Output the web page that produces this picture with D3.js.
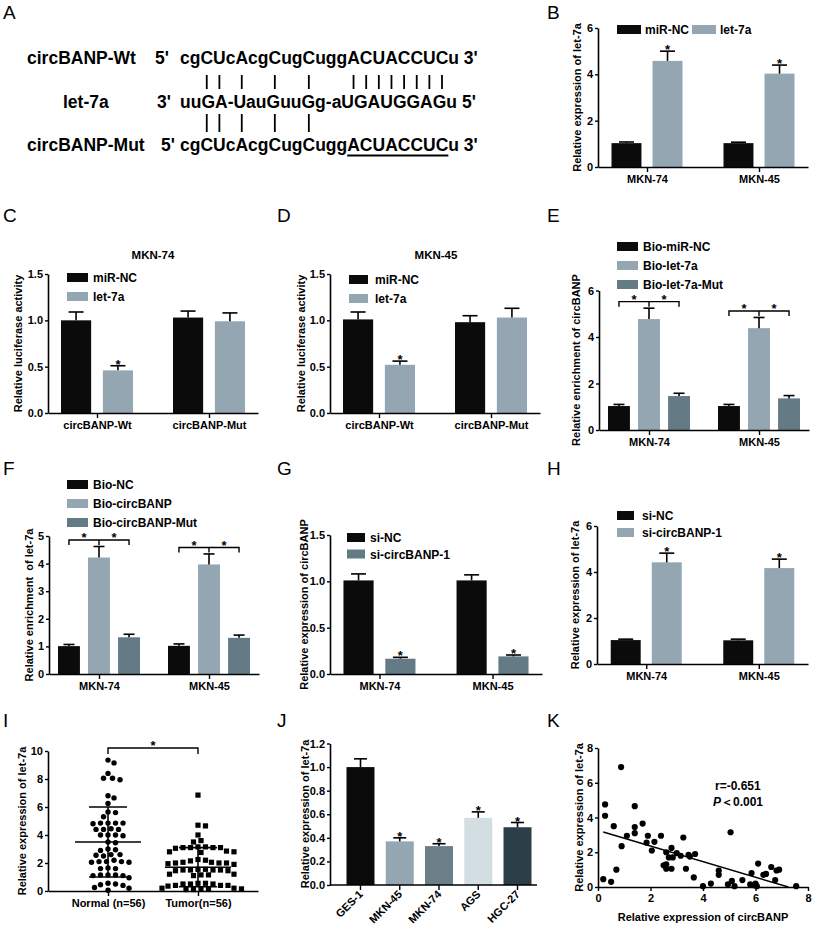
<!DOCTYPE html>
<html><head><meta charset="utf-8">
<script src="https://cdn.jsdelivr.net/npm/d3@7/dist/d3.min.js"></script>
<style>html,body{margin:0;padding:0;background:#fff;}svg{display:block;}</style>
</head><body>
<svg id="fig" width="813" height="927"></svg>
<script>
const FONT = '"Liberation Sans", Arial, Helvetica, sans-serif';
const BLACK = "#0b0b0b", LIGHT = "#93a6b2", DARK = "#647a85";

// ---------- Panel A (sequence alignment) ----------
const aLabels = ["circBANP-Wt", "let-7a", "circBANP-Mut"];
const aPrime5 = ["5'", "3'", "5'"];
const aSeqs = ["cgCUcAcgCugCuggACUACCUCu", "uuGA-UauGuuGg-aUGAUGGAGu", "cgCUcAcgCugCuggACUACCUCu"];
const aPrime3 = ["3'", "5'", "3'"];
const aPairsTop = [2, 3, 5, 8, 11, 15, 16, 17, 18, 19, 20, 21, 22];
const aPairsBottom = [2, 3, 5, 8, 11];
const aMutated = [15, 22];

// ---------- Panel B ----------
const bGroups = ["MKN-74", "MKN-45"];
const bSeries = ["miR-NC", "let-7a"];
const bMean = [[1.03, 4.58], [1.03, 4.03]];
const bErr = [[1.08, 5.00], [1.07, 4.40]];
const bStar = [[0, 1], [0, 1]];
const bTicks = [0, 2, 4, 6];

// ---------- Panel C ----------
const cGroups = ["circBANP-Wt", "circBANP-Mut"];
const cSeries = ["miR-NC", "let-7a"];
const cMean = [[1.00, 0.46], [1.03, 0.99]];
const cErr = [[1.09, 0.51], [1.10, 1.08]];
const cStar = [[0, 1], [0, 0]];
const cTicks = [0, 0.5, 1.0, 1.5];

// ---------- Panel D ----------
const dGroups = ["circBANP-Wt", "circBANP-Mut"];
const dSeries = ["miR-NC", "let-7a"];
const dMean = [[1.01, 0.52], [0.98, 1.03]];
const dErr = [[1.09, 0.56], [1.05, 1.13]];
const dStar = [[0, 1], [0, 0]];
const dTicks = [0, 0.5, 1.0, 1.5];

// ---------- Panel E ----------
const eGroups = ["MKN-74", "MKN-45"];
const eSeries = ["Bio-miR-NC", "Bio-let-7a", "Bio-let-7a-Mut"];
const eMean = [[1.03, 4.77, 1.46], [1.03, 4.38, 1.36]];
const eErr = [[1.10, 5.24, 1.58], [1.10, 4.84, 1.48]];
const eTicks = [0, 2, 4, 6];

// ---------- Panel F ----------
const fGroups = ["MKN-74", "MKN-45"];
const fSeries = ["Bio-NC", "Bio-circBANP", "Bio-circBANP-Mut"];
const fMean = [[1.01, 4.22, 1.33], [1.02, 3.97, 1.31]];
const fErr = [[1.07, 4.62, 1.44], [1.09, 4.35, 1.41]];
const fTicks = [0, 1, 2, 3, 4, 5];

// ---------- Panel G ----------
const gGroups = ["MKN-74", "MKN-45"];
const gSeries = ["si-NC", "si-circBANP-1"];
const gMean = [[1.01, 0.165], [1.01, 0.19]];
const gErr = [[1.08, 0.18], [1.07, 0.205]];
const gStar = [[0, 1], [0, 1]];
const gTicks = [0, 0.5, 1.0, 1.5];

// ---------- Panel H ----------
const hGroups = ["MKN-74", "MKN-45"];
const hSeries = ["si-NC", "si-circBANP-1"];
const hMean = [[1.04, 4.42], [1.03, 4.17]];
const hErr = [[1.08, 4.82], [1.08, 4.56]];
const hStar = [[0, 1], [0, 1]];
const hTicks = [0, 2, 4, 6];

// ---------- Panel I ----------
const iGroups = ["Normal (n=56)", "Tumor(n=56)"];
const iNormal = [9.35, 9.15, 8.4, 8.05, 7.95, 8.05, 6.8, 6.65, 6.25, 5.65, 5.6, 5.3,
  4.85, 4.85, 4.8, 4.85, 4.85, 4.4, 4.45, 4.4, 4.4, 4.0, 4.0, 3.95, 4.0, 3.5, 3.45,
  3.0, 2.9, 2.95, 2.6, 2.55, 2.6, 2.5, 2.2, 2.1, 2.05, 2.1, 2.05, 2.1, 1.65, 1.6, 1.6,
  1.15, 1.1, 1.15, 1.1, 1.15, 0.95, 0.55, 0.45, 0.5, 0.4, 0.2, 0.25, 0.05];
const iTumor = [6.85, 4.7, 4.65, 4.0, 3.6, 3.5, 3.15, 3.1, 3.1, 3.15, 3.1, 3.1, 3.05,
  2.8, 2.75, 2.8, 2.85, 2.2, 2.25, 2.15, 2.05, 2.0, 1.95, 2.0, 2.05, 1.9, 2.0,
  1.55, 1.5, 1.45, 1.5, 1.55, 1.45, 1.5, 1.5, 1.2, 1.15, 1.1, 1.15, 1.2,
  0.55, 0.5, 0.5, 0.55, 0.5, 0.4, 0.35, 0.4, 0.4, 0.2, 0.15, 0.1, 0.2, 0.15, 0.1, 0.15];
const iMeanLine = [3.5, 1.7];
const iSdHigh = [6.0, 3.1];
const iSdLow = [1.0, 0.3];
const iTicks = [0, 2, 4, 6, 8, 10];

// ---------- Panel J ----------
const jCats = ["GES-1", "MKN-45", "MKN-74", "AGS", "HGC-27"];
const jMean = [1.00, 0.37, 0.33, 0.57, 0.49];
const jErr = [1.07, 0.40, 0.35, 0.62, 0.53];
const jStar = [0, 1, 1, 1, 1];
const jColors = ["#0b0b0b", "#94a7b2", "#6b7f89", "#d3dee2", "#2c3e48"];
const jTicks = [0, 0.2, 0.4, 0.6, 0.8, 1.0, 1.2];

// ---------- Panel K ----------
const kX = [0.88, 0.27, 0.27, 1.4, 0.6, 1.7, 1.4, 1.4, 1.1, 1.9, 2.4, 3.25, 5.05, 1.85, 2.15, 0.9,
  2.8, 2.05, 2.6, 3.0, 3.45, 3.15, 3.7, 2.85, 2.5, 2.6, 2.6, 2.8, 3.35, 0.7, 0.2, 0.5, 3.65,
  4.0, 4.3, 4.6, 4.6, 4.95, 5.1, 5.2, 5.5, 5.8, 5.85, 6.0, 6.05, 6.1, 6.3, 6.4, 6.6, 6.75,
  6.8, 6.9, 7.55, 3.5, 2.7, 5.95];
const kY = [6.9, 4.75, 4.1, 4.65, 3.5, 3.65, 3.45, 3.1, 2.95, 2.95, 2.95, 2.85, 3.15, 2.55, 2.6, 2.35,
  2.25, 2.1, 2.0, 1.95, 1.85, 1.8, 1.9, 1.7, 1.25, 1.3, 1.05, 1.05, 1.05, 1.0, 0.45, 0.3, 0.55,
  0.05, 0.2, 0.7, 0.95, 0.15, 0.35, 0.05, 0.4, 0.15, 0.8, 0.2, 0.05, 1.35, 0.7, 0.75, 1.15, 0.4,
  0.95, 1.0, 0.05, 1.75, 1.7, 0.1];
const kFitIntercept = 3.25, kFitSlope = -0.448, kFitStart = 0.2;
const kTicks = [0, 2, 4, 6, 8];
const kStats = ["r=-0.651", "0.001"];

// ---------- Panel letters ----------
const panelLetters = ["A", "B", "C", "D", "E", "F", "G", "H", "I", "J", "K"];

// =====================================================
const svg = d3.select("#fig");
svg.append("rect").attr("width", 813).attr("height", 927).attr("fill", "#fff");

const letterPos = [[3, 19], [547, 19], [3, 222], [277, 222], [547, 222], [3, 475], [277, 475], [547, 475], [3, 727], [277, 727], [547, 727]];
panelLetters.forEach((L, i) => {
  svg.append("text").attr("x", letterPos[i][0]).attr("y", letterPos[i][1])
    .attr("font-family", FONT).attr("font-size", 19).attr("fill", "#000").text(L);
});

function styleAxis(sel, size) {
  sel.attr("font-family", FONT).attr("font-size", size || 11).attr("font-weight", "bold");
  sel.selectAll(".domain").attr("stroke", "#000").attr("stroke-width", 1.6);
  sel.selectAll(".tick line").attr("stroke", "#000").attr("stroke-width", 1.4);
  sel.selectAll(".tick text").attr("fill", "#000");
}
function yTitle(x, cy, txt) {
  svg.append("text").attr("transform", `translate(${x},${cy}) rotate(-90)`)
    .attr("text-anchor", "middle").attr("dy", "0.35em")
    .attr("font-family", FONT).attr("font-weight", "bold").attr("font-size", 11)
    .style("white-space", "pre").text(txt);
}
function star(x, yb) {
  svg.append("text").attr("x", x).attr("y", yb).attr("text-anchor", "middle")
    .attr("font-family", FONT).attr("font-weight", "bold").attr("font-size", 13).text("*");
}
function legend(o) {
  o.items.forEach((t, i) => {
    const lx = o.x + (o.dx || 0) * i, ly = o.y + (o.dy || 0) * i;
    svg.append("rect").attr("x", lx).attr("y", ly).attr("width", o.w).attr("height", o.h).attr("fill", o.colors[i]);
    svg.append("text").attr("x", lx + o.w + o.gap).attr("y", ly + o.h)
      .attr("font-family", FONT).attr("font-weight", "bold").attr("font-size", 12).text(t);
  });
}

// ---------- Panel A drawing ----------
(function () {
  const labelX = [27, 63, 27], base = [64, 108, 151], primeX = [155, 157, 161], seqX = 180;
  const g = svg.append("g").attr("font-family", FONT).attr("font-weight", "bold").attr("font-size", 17.5).attr("fill", "#000");
  const nodes = [];
  aLabels.forEach((lab, i) => {
    g.append("text").attr("x", labelX[i]).attr("y", base[i]).text(lab);
    g.append("text").attr("x", primeX[i]).attr("y", base[i]).text(aPrime5[i]);
    nodes.push(g.append("text").attr("x", seqX).attr("y", base[i]).text(aSeqs[i] + " " + aPrime3[i]).node());
  });
  const cc = (n, k) => seqX + n.getSubStringLength(0, k) + n.getSubStringLength(k, 1) / 2;
  aPairsTop.forEach(k => {
    const x = cc(nodes[0], k);
    svg.append("line").attr("x1", x).attr("x2", x).attr("y1", 75).attr("y2", 89).attr("stroke", "#000").attr("stroke-width", 1.8);
  });
  aPairsBottom.forEach(k => {
    const x = cc(nodes[2], k);
    svg.append("line").attr("x1", x).attr("x2", x).attr("y1", 114).attr("y2", 132).attr("stroke", "#000").attr("stroke-width", 1.8);
  });
  const ux0 = seqX + nodes[2].getSubStringLength(0, aMutated[0]);
  const ux1 = seqX + nodes[2].getSubStringLength(0, aMutated[1] + 1);
  svg.append("line").attr("x1", ux0).attr("x2", ux1).attr("y1", 155.5).attr("y2", 155.5).attr("stroke", "#000").attr("stroke-width", 1.8);
})();

// ---------- generic grouped bar panel ----------
function barPanel(o) {
  const y = d3.scaleLinear().domain([0, o.ymax]).range([o.bottom, o.top]);
  const x0 = d3.scalePoint().domain(o.groups).range([o.left, o.right]).padding(o.pad);
  const x1 = d3.scaleBand().domain(o.series).range([-o.gw / 2, o.gw / 2]).paddingInner(o.inner);
  const g = svg.append("g");
  const bars = [];
  o.groups.forEach((grp, gi) => o.series.forEach((s, si) => bars.push({
    grp, s, si, v: o.mean[gi][si], e: o.err[gi][si], st: o.star ? o.star[gi][si] : 0
  })));
  const cx = d => x0(d.grp) + x1(d.s) + x1.bandwidth() / 2;
  g.selectAll("rect.bar").data(bars).join("rect").attr("class", "bar")
    .attr("x", d => x0(d.grp) + x1(d.s)).attr("y", d => y(d.v))
    .attr("width", x1.bandwidth()).attr("height", d => y(0) - y(d.v)).attr("fill", d => o.colors[d.si]);
  g.selectAll("line.stem").data(bars).join("line").attr("class", "stem")
    .attr("x1", cx).attr("x2", cx).attr("y1", d => y(d.v)).attr("y2", d => y(d.e))
    .attr("stroke", "#000").attr("stroke-width", 1.6);
  g.selectAll("line.cap").data(bars).join("line").attr("class", "cap")
    .attr("x1", d => cx(d) - o.cap / 2).attr("x2", d => cx(d) + o.cap / 2)
    .attr("y1", d => y(d.e)).attr("y2", d => y(d.e))
    .attr("stroke", "#000").attr("stroke-width", 1.6);
  bars.filter(d => d.st).forEach(d => star(cx(d), y(d.e) + 3));
  if (o.brackets) {
    o.groups.forEach((grp, gi) => {
      const by = y(d3.max(o.err[gi])) - 6.5;
      const cs = o.series.map(s => x0(grp) + x1(s) + x1.bandwidth() / 2);
      const p = d3.path();
      p.moveTo(cs[0], by + 5); p.lineTo(cs[0], by); p.lineTo(cs[2], by); p.lineTo(cs[2], by + 5);
      p.moveTo(cs[1], by); p.lineTo(cs[1], by + 5);
      g.append("path").attr("d", p.toString()).attr("fill", "none").attr("stroke", "#000").attr("stroke-width", 1.4);
      star((cs[0] + cs[1]) / 2, by + 2.5);
      star((cs[1] + cs[2]) / 2, by + 2.5);
    });
  }
  const ya = g.append("g").attr("transform", `translate(${o.left},0)`)
    .call(d3.axisLeft(y).tickValues(o.ticks).tickFormat(o.fmt).tickSize(3).tickPadding(2).tickSizeOuter(0));
  styleAxis(ya);
  const xa = g.append("g").attr("transform", `translate(0,${o.bottom})`)
    .call(d3.axisBottom(x0).tickSize(5).tickPadding(3).tickSizeOuter(0));
  styleAxis(xa);
  return { x0, x1, y };
}

const fmt1 = d3.format(".1f"), fmt0 = d3.format("d");

// B
barPanel({ groups: bGroups, series: bSeries, mean: bMean, err: bErr, star: bStar, ymax: 6, ticks: bTicks, fmt: fmt0,
  left: 598, right: 808, bottom: 167, top: 28, pad: 0.4375, gw: 71, inner: 0.27, cap: 15, colors: [BLACK, LIGHT] });
legend({ x: 617, y: 25, dx: 75, w: 24, h: 9, gap: 4, items: bSeries, colors: [BLACK, LIGHT] });
yTitle(577, 97.5, "Relative expression of let-7a");

// C
barPanel({ groups: cGroups, series: cSeries, mean: cMean, err: cErr, star: cStar, ymax: 1.5, ticks: cTicks, fmt: fmt1,
  left: 48, right: 258, bottom: 413, top: 274, pad: 0.4375, gw: 72, inner: 0.28, cap: 15, colors: [BLACK, LIGHT] });
legend({ x: 67, y: 273, dy: 19, w: 21, h: 9, gap: 5, items: cSeries, colors: [BLACK, LIGHT] });
yTitle(18, 343.5, "Relative luciferase activity");
svg.append("text").attr("x", 153).attr("y", 259).attr("text-anchor", "middle").attr("font-family", FONT)
  .attr("font-weight", "bold").attr("font-size", 11.5).text("MKN-74");

// D
barPanel({ groups: dGroups, series: dSeries, mean: dMean, err: dErr, star: dStar, ymax: 1.5, ticks: dTicks, fmt: fmt1,
  left: 330, right: 540, bottom: 413, top: 274, pad: 0.4375, gw: 72, inner: 0.28, cap: 15, colors: [BLACK, LIGHT] });
legend({ x: 349, y: 275, dy: 19, w: 19, h: 9, gap: 7, items: dSeries, colors: [BLACK, LIGHT] });
yTitle(301, 343.5, "Relative luciferase activity");
svg.append("text").attr("x", 436).attr("y", 259).attr("text-anchor", "middle").attr("font-family", FONT)
  .attr("font-weight", "bold").attr("font-size", 11.5).text("MKN-45");

// E
barPanel({ groups: eGroups, series: eSeries, mean: eMean, err: eErr, ymax: 6, ticks: eTicks, fmt: fmt0, brackets: true,
  left: 599, right: 809, bottom: 430, top: 290.5, pad: 0.4545, gw: 82, inner: 0.27, cap: 11, colors: [BLACK, LIGHT, DARK] });
legend({ x: 617, y: 242, dy: 19, w: 21, h: 9, gap: 5, items: eSeries, colors: [BLACK, LIGHT, DARK] });
yTitle(576, 360, "Relative enrichment of circBANP");

// F
barPanel({ groups: fGroups, series: fSeries, mean: fMean, err: fErr, ymax: 5, ticks: fTicks, fmt: fmt0, brackets: true,
  left: 49, right: 259, bottom: 674, top: 536, pad: 0.4545, gw: 82, inner: 0.27, cap: 11, colors: [BLACK, LIGHT, DARK] });
legend({ x: 67, y: 480, dy: 19, w: 21, h: 9, gap: 5, items: fSeries, colors: [BLACK, LIGHT, DARK] });
yTitle(29, 605, "Relative enrichment  of let-7a");

// G
barPanel({ groups: gGroups, series: gSeries, mean: gMean, err: gErr, star: gStar, ymax: 1.5, ticks: gTicks, fmt: fmt1,
  left: 330, right: 542, bottom: 674, top: 535, pad: 0.4375, gw: 72, inner: 0.28, cap: 15, colors: [BLACK, DARK] });
legend({ x: 347, y: 533, dy: 16.5, w: 18, h: 9, gap: 5, items: gSeries, colors: [BLACK, DARK] });
yTitle(304, 604.5, "Relative expression of circBANP");

// H
barPanel({ groups: hGroups, series: hSeries, mean: hMean, err: hErr, star: hStar, ymax: 6, ticks: hTicks, fmt: fmt0,
  left: 597, right: 808, bottom: 664, top: 526, pad: 0.4375, gw: 71, inner: 0.27, cap: 15, colors: [BLACK, LIGHT] });
legend({ x: 617, y: 511, dy: 17, w: 17, h: 9, gap: 8, items: hSeries, colors: [BLACK, LIGHT] });
yTitle(575, 595, "Relative expression of let-7a");

// ---------- Panel I ----------
(function () {
  const y = d3.scaleLinear().domain([0, 10]).range([891, 751]);
  const x = d3.scalePoint().domain(iGroups).range([48, 258]).padding(0.667);
  const g = svg.append("g");
  function swarm(vals, cx, dist) {
    const placed = [];
    vals.slice().sort((a, b) => b - a).forEach(v => {
      const py = y(v);
      for (let k = 0; k < 400; k++) {
        const off = (k % 2 ? 1 : -1) * Math.ceil(k / 2) * 1.5;
        const px = cx + off;
        if (placed.every(p => Math.hypot(p.x - px, p.y - py) >= dist)) { placed.push({ x: px, y: py }); break; }
      }
    });
    return placed;
  }
  const nPts = swarm(iNormal, x(iGroups[0]), 6.2);
  const tPts = swarm(iTumor, x(iGroups[1]), 6.2);
  g.selectAll("circle.n").data(nPts).join("circle").attr("class", "n")
    .attr("cx", d => d.x).attr("cy", d => d.y).attr("r", 2.7).attr("fill", "#000");
  g.selectAll("rect.t").data(tPts).join("rect").attr("class", "t")
    .attr("x", d => d.x - 2.6).attr("y", d => d.y - 2.6).attr("width", 5.2).attr("height", 5.2).attr("fill", "#000");
  iGroups.forEach((grp, i) => {
    const cx = x(grp);
    const ln = (x1, x2, y1, y2) => g.append("line").attr("x1", x1).attr("x2", x2).attr("y1", y1).attr("y2", y2)
      .attr("stroke", "#000").attr("stroke-width", 1.6);
    ln(cx - 33, cx + 33, y(iMeanLine[i]), y(iMeanLine[i]));
    ln(cx - 19, cx + 19, y(iSdHigh[i]), y(iSdHigh[i]));
    ln(cx - 19, cx + 19, y(iSdLow[i]), y(iSdLow[i]));
    ln(cx, cx, y(iSdLow[i]), y(iSdHigh[i]));
  });
  const bx0 = x(iGroups[0]), bx1 = x(iGroups[1]);
  g.append("path").attr("d", `M${bx0},754V748H${bx1}V754`).attr("fill", "none").attr("stroke", "#000").attr("stroke-width", 1.4);
  star((bx0 + bx1) / 2, 750);
  const ya = g.append("g").attr("transform", "translate(48,0)")
    .call(d3.axisLeft(y).tickValues(iTicks).tickFormat(fmt0).tickSize(3).tickPadding(2).tickSizeOuter(0));
  styleAxis(ya);
  const xa = g.append("g").attr("transform", "translate(0,891)")
    .call(d3.axisBottom(x).tickSize(5).tickPadding(3).tickSizeOuter(0));
  styleAxis(xa);
  yTitle(22, 821, "Relative expression of let-7a");
})();

// ---------- Panel J ----------
(function () {
  const y = d3.scaleLinear().domain([0, 1.2]).range([885, 743.5]);
  const x = d3.scaleBand().domain(jCats).range([341, 537]).paddingInner(0.287).paddingOuter(0.14);
  const g = svg.append("g");
  const data = jCats.map((c, i) => ({ c, i, v: jMean[i], e: jErr[i], st: jStar[i] }));
  const cx = d => x(d.c) + x.bandwidth() / 2;
  g.selectAll("rect").data(data).join("rect").attr("x", d => x(d.c)).attr("y", d => y(d.v))
    .attr("width", x.bandwidth()).attr("height", d => y(0) - y(d.v)).attr("fill", d => jColors[d.i]);
  g.selectAll("line.stem").data(data).join("line").attr("class", "stem").attr("x1", cx).attr("x2", cx)
    .attr("y1", d => y(d.v)).attr("y2", d => y(d.e)).attr("stroke", "#000").attr("stroke-width", 1.6);
  g.selectAll("line.cap").data(data).join("line").attr("class", "cap")
    .attr("x1", d => cx(d) - 6.5).attr("x2", d => cx(d) + 6.5)
    .attr("y1", d => y(d.e)).attr("y2", d => y(d.e)).attr("stroke", "#000").attr("stroke-width", 1.6);
  data.filter(d => d.st).forEach(d => star(cx(d), y(d.e) + 3));
  const ya = g.append("g").attr("transform", "translate(330,0)")
    .call(d3.axisLeft(y).tickValues(jTicks).tickFormat(fmt1).tickSize(3).tickPadding(2).tickSizeOuter(0));
  styleAxis(ya);
  const xa = g.append("g").attr("transform", "translate(0,885)")
    .call(d3.axisBottom(x).tickSize(5).tickPadding(3).tickSizeOuter(0));
  styleAxis(xa);
  xa.select(".domain").remove();
  g.append("line").attr("x1", 330).attr("x2", 537).attr("y1", 885).attr("y2", 885).attr("stroke", "#000").attr("stroke-width", 1.6);
  xa.selectAll(".tick text").attr("text-anchor", "end").attr("dy", null).attr("y", null)
    .attr("transform", "translate(3,10) rotate(-45)");
  yTitle(305, 814, "Relative expression of let-7a");
})();

// ---------- Panel K ----------
(function () {
  const x = d3.scaleLinear().domain([0, 8]).range([598, 808]);
  const y = d3.scaleLinear().domain([0, 8]).range([887, 748]);
  const g = svg.append("g");
  const pts = kX.map((v, i) => ({ x: v, y: kY[i] }));
  const xEnd = -kFitIntercept / kFitSlope;
  g.append("line").attr("x1", x(kFitStart)).attr("y1", y(kFitIntercept + kFitSlope * kFitStart))
    .attr("x2", x(xEnd)).attr("y2", y(0)).attr("stroke", "#000").attr("stroke-width", 1.5);
  g.selectAll("circle").data(pts).join("circle").attr("cx", d => x(d.x)).attr("cy", d => y(d.y))
    .attr("r", 3.1).attr("fill", "#000");
  const ya = g.append("g").attr("transform", "translate(598,0)")
    .call(d3.axisLeft(y).tickValues(kTicks).tickFormat(fmt0).tickSize(3).tickPadding(2).tickSizeOuter(0));
  styleAxis(ya);
  const xa = g.append("g").attr("transform", "translate(0,887)")
    .call(d3.axisBottom(x).tickValues(kTicks).tickFormat(fmt0).tickSize(4).tickPadding(3).tickSizeOuter(0));
  styleAxis(xa);
  yTitle(579, 817.5, "Relative expression of let-7a");
  svg.append("text").attr("x", 703).attr("y", 921).attr("text-anchor", "middle").attr("font-family", FONT)
    .attr("font-weight", "bold").attr("font-size", 11).text("Relative expression of circBANP");
  svg.append("text").attr("x", 715).attr("y", 790).attr("font-family", FONT)
    .attr("font-weight", "bold").attr("font-size", 12).text(kStats[0]);
  const t = svg.append("text").attr("x", 713).attr("y", 806).attr("font-family", FONT)
    .attr("font-weight", "bold").attr("font-size", 12);
  t.append("tspan").attr("font-style", "italic").text("P");
  t.append("tspan").text("\uFF1C" + kStats[1]);
})();
</script>
</body></html>
